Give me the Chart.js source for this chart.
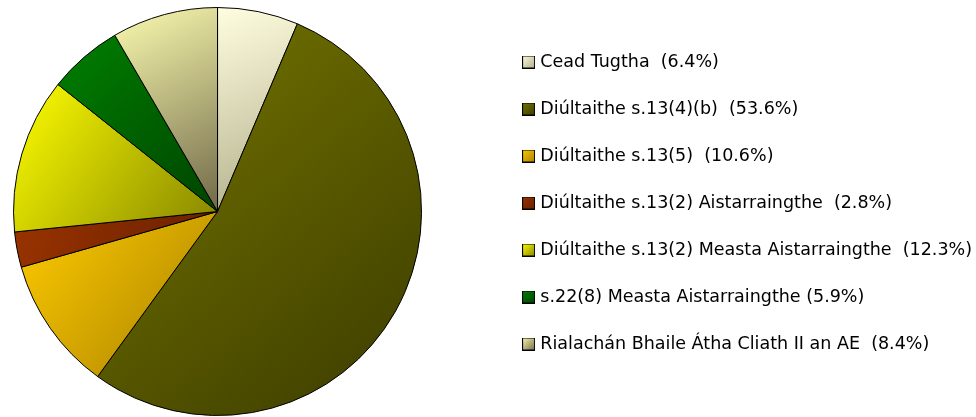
<!DOCTYPE html>
<html>
<head>
<meta charset="utf-8">
<script src="https://cdn.jsdelivr.net/npm/chart.js@4/dist/chart.umd.min.js"></script>
<style>
  html, body { margin: 0; padding: 0; background: #fff; overflow: hidden; }
  /* canvas runs a little past both edges so the pie and legend land where the original has them */
  #wrap { width: 1043px; height: 417px; margin-left: -61px; }
</style>
</head>
<body>
<div id="wrap"><canvas id="plot"></canvas></div>
<script>
var categories = ['Cead Tugtha', 'Diúltaithe s.13(4)(b)', 'Diúltaithe s.13(5)',
                  'Diúltaithe s.13(2) Aistarraingthe', 'Diúltaithe s.13(2) Measta Aistarraingthe',
                  's.22(8) Measta Aistarraingthe', 'Rialachán Bhaile Átha Cliath II an AE'];
var percents = [6.4, 53.6, 10.6, 2.8, 12.3, 5.9, 8.4];
var labelGaps = ['  ', '  ', '  ', '  ', '  ', ' ', '  '];
var lightColors = ['#fffee0', '#767600', '#ffcc00', '#993300', '#ffff00', '#008000', '#fcfcb0'];
var darkColors  = ['#b0ac88', '#3c3c00', '#a88000', '#6a2000', '#858500', '#004400', '#706848'];

// gradient over each slice's bounding box, light at top-left, dark at bottom-right
var sliceGradient = function(context){
    var chart = context.chart, i = context.dataIndex;
    var area = chart.chartArea;
    if (!area) return lightColors[i];
    var cx = (area.left + area.right) / 2, cy = (area.top + area.bottom) / 2;
    var r = Math.min(area.right - area.left, area.bottom - area.top) / 2;
    var total = percents.reduce(function(a, b){ return a + b; }, 0);
    var before = 0;
    for (var k = 0; k < i; k++) before += percents[k];
    var a0 = -Math.PI / 2 + before / total * 2 * Math.PI;
    var a1 = a0 + percents[i] / total * 2 * Math.PI;
    var xs = [cx], ys = [cy];
    for (var s = 0; s <= 24; s++) {
        var a = a0 + (a1 - a0) * s / 24;
        xs.push(cx + r * Math.cos(a));
        ys.push(cy + r * Math.sin(a));
    }
    var g = chart.ctx.createLinearGradient(Math.min.apply(null, xs), Math.min.apply(null, ys),
                                           Math.max.apply(null, xs), Math.max.apply(null, ys));
    g.addColorStop(0, lightColors[i]);
    g.addColorStop(1, darkColors[i]);
    return g;
};

// small shaded squares for the legend
var makeBox = function(i){
    var c = document.createElement('canvas');
    c.width = 13; c.height = 13;
    var x = c.getContext('2d');
    var g = x.createLinearGradient(0, 0, 13, 13);
    g.addColorStop(0, lightColors[i]);
    g.addColorStop(1, darkColors[i]);
    x.fillStyle = g;
    x.fillRect(0, 0, 13, 13);
    x.strokeStyle = '#000';
    x.lineWidth = 1;
    x.strokeRect(0.5, 0.5, 12, 12);
    return c;
};

var ctx = document.getElementById('plot').getContext('2d');
var chart = new Chart(ctx, {
    type: 'pie',
    data: {
        labels: categories,
        datasets: [{
            data: percents,
            backgroundColor: sliceGradient,
            borderColor: '#000',
            borderWidth: 1
        }]
    },
    options: {
        responsive: true,
        maintainAspectRatio: false,
        animation: false,
        layout: { padding: { top: 7, bottom: 1, left: 0, right: 0 } },
        plugins: {
            tooltip: { enabled: false },
            legend: {
                position: 'right',
                align: 'start',
                title: { display: true, text: ' ', padding: 0, font: { size: 10, lineHeight: 1.675 } },
                labels: {
                    usePointStyle: true,
                    boxWidth: 6,
                    boxHeight: 8,
                    padding: 29.5,
                    color: '#000',
                    font: { family: 'DejaVu Sans', size: 17.5 },
                    generateLabels: function(chart){
                        return categories.map(function(name, i){
                            return {
                                text: name + labelGaps[i] + '(' + percents[i].toFixed(1) + '%)',
                                pointStyle: makeBox(i),
                                fillStyle: lightColors[i],
                                strokeStyle: '#000',
                                fontColor: '#000',
                                lineWidth: 0,
                                index: i
                            };
                        });
                    }
                }
            }
        }
    }
});
</script>
</body>
</html>
